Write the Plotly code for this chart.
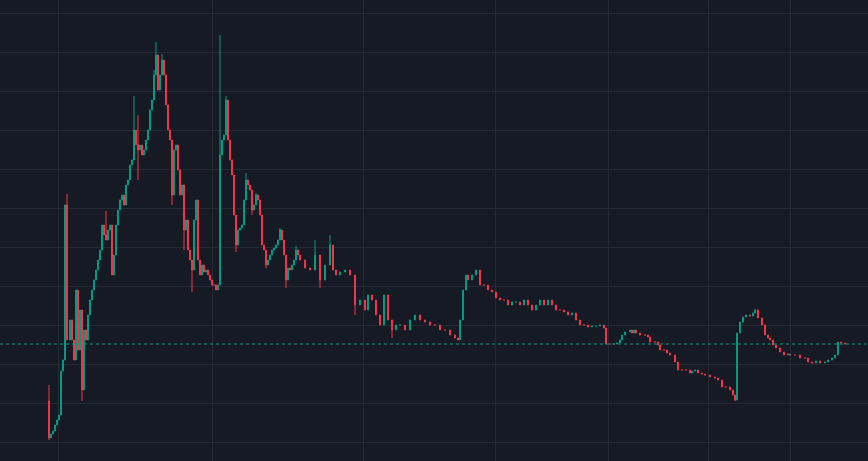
import plotly.graph_objects as go

# time index of each candle
t = [49, 51, 53, 55, 57, 59, 61, 63, 65, 67, 70, 72, 74, 76, 78, 80, 82, 84, 86, 88,
     90, 92, 94, 96, 98, 100, 102, 104, 106, 108, 110, 112, 114, 116, 118, 120, 122, 124, 126, 128, 130, 132,
     134, 136, 138, 140, 142, 144, 146, 148, 150, 152, 154, 156, 158, 160, 162, 164, 166, 168, 170, 172,
     174, 176, 178, 180, 182, 184, 186, 188, 190, 192, 194, 196, 198, 200, 202, 204, 206, 208, 210, 212, 214,
     216, 218, 220, 222, 224, 226, 228, 230, 232, 234, 236, 238, 240, 242, 244, 246, 248, 250, 252, 254,
     256, 258, 260, 262, 264, 266, 268, 270, 272, 274, 276, 278, 280, 282, 284, 286, 288, 290, 292, 294, 296,
     298, 300, 305, 310, 315, 320, 325, 330, 333, 336, 340, 345, 350, 355, 360, 365, 368, 372, 376, 380, 384,
     388, 392, 396, 400, 405, 410, 415, 420, 425, 430, 435, 440, 445, 450, 455, 458, 460, 463, 466, 468, 472,
     476, 480, 484, 488, 492, 496, 500, 504, 508, 512, 516, 520, 524, 528, 532, 536, 540, 544, 548, 552, 556,
     560, 564, 568, 572, 576, 580, 584, 588, 592, 596, 600, 604, 606, 610, 614, 617, 620, 622, 625, 630, 632,
     634, 636, 640, 645, 648, 650, 655, 658, 660, 664, 667, 670, 675, 678, 682, 686, 690, 692, 695, 698, 702,
     705, 710, 715, 718, 722, 726, 730, 733, 735, 737, 740, 743, 746, 750, 753, 755, 758, 762, 765, 768, 770,
     773, 776, 780, 784, 788, 790, 795, 800, 805, 808, 812, 816, 820, 825, 828, 832, 835, 838, 841, 845]

close = [23, 27, 30, 36, 41, 46, 90, 101, 256, 121, 141, 121, 101, 171, 111, 151, 71,
         131, 121, 146, 161, 171, 181, 191, 201, 211, 236, 226, 221, 231, 236, 186, 206, 236, 251, 261, 266, 256,
         276, 281, 296, 301, 331, 316, 311, 316, 306, 311, 321, 331, 351, 361, 386, 406, 371, 386, 401, 386,
         356, 331, 321, 266, 311, 316, 291, 266, 276, 231, 241, 211, 201, 191, 241, 261, 201, 186, 196, 189, 191,
         186, 181, 176, 176, 171, 176, 306, 321, 326, 361, 321, 301, 286, 246, 216, 231, 233, 236, 261, 281,
         276, 271, 251, 256, 266, 261, 246, 216, 211, 196, 201, 206, 211, 213, 216, 221, 231, 221, 206, 181, 193,
         191, 196, 201, 211, 206, 201, 193, 191, 206, 181, 196, 216, 191, 186, 189, 191, 186, 156, 161, 151, 166,
         161, 146, 136, 166, 141, 131, 136, 136, 131, 141, 146, 141, 139, 136, 136, 131, 131, 126, 123, 121, 141,
         171, 186, 181, 186, 191, 176, 176, 171, 169, 163, 161, 161, 156, 159, 159, 156, 161, 156, 151, 156, 161,
         156, 161, 156, 151, 151, 149, 146, 148, 141, 136, 136, 134, 135, 135, 136, 133, 117, 117, 117, 118, 121,
         126, 129, 131, 128, 131, 128, 126, 126, 124, 119, 119, 116, 111, 111, 108, 106, 99, 91, 91, 91, 88, 90,
         91, 88, 87, 86, 84, 83, 81, 74, 74, 71, 66, 61, 128, 139, 144, 146, 145, 148, 151, 143, 136, 126, 123,
         121, 116, 113, 109, 106, 107, 106, 106, 103, 103, 99, 98, 100, 98, 99, 101, 103, 106, 119, 118, 117]

first_open = 60

# long wicks (time: price)
wick_high = {49: 76, 67: 267, 106: 250, 134: 365, 138: 346, 154: 391, 156: 419, 162: 407, 220: 426,
             226: 365, 246: 288, 256: 268, 280: 233, 296: 215, 315: 221, 330: 226, 755: 152}
wick_low = {49: 21, 82: 60, 138: 281, 172: 256, 184: 211, 192: 169, 236: 209, 252: 246, 266: 193,
            286: 173, 320: 173, 355: 146, 392: 123, 735: 60}

last_price = 117
grid_y = [19, 58, 97, 136, 175, 214, 253, 292, 331, 370, 409, 448]
grid_x = [58, 212, 363, 495, 608, 708, 790]

opens = [first_open] + close[:-1]
highs = [max(o, c, wick_high.get(x, 0)) for x, o, c in zip(t, opens, close)]
lows = [min(o, c, wick_low.get(x, 10000)) for x, o, c in zip(t, opens, close)]

up, down = '#089981', '#f23645'
fig = go.Figure(go.Candlestick(
    x=t, open=opens, high=highs, low=lows, close=close,
    increasing=dict(line=dict(color=up, width=1), fillcolor=up),
    decreasing=dict(line=dict(color=down, width=1), fillcolor=down),
    whiskerwidth=0, hoverinfo='skip'))

fig.add_hline(y=last_price, line=dict(color=up, width=1, dash='dot'))

fig.update_layout(
    width=868, height=461, margin=dict(l=0, r=0, t=0, b=0),
    paper_bgcolor='#161a25', plot_bgcolor='#161a25', showlegend=False,
    xaxis=dict(range=[0, 868], rangeslider=dict(visible=False), tickvals=grid_x,
               showticklabels=False, gridcolor='#252935', zeroline=False),
    yaxis=dict(range=[0, 461], tickvals=grid_y, showticklabels=False,
               gridcolor='#252935', zeroline=False),
)

fig.write_html("out.html", config={'displayModeBar': False},
               post_script="document.body.style.margin='0';"
               "document.body.style.background='#161a25';")
